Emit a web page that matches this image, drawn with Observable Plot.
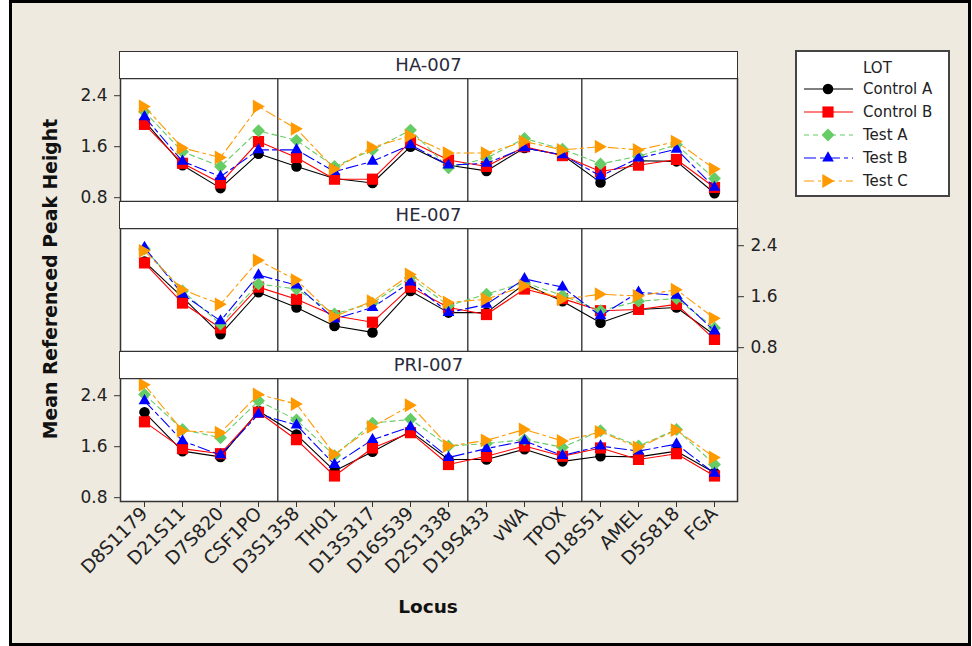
<!DOCTYPE html>
<html><head><meta charset="utf-8">
<script src="https://cdn.jsdelivr.net/npm/d3@7"></script>
<script src="https://cdn.jsdelivr.net/npm/@observablehq/plot@0.6"></script>
<style>
html,body{margin:0;padding:0;background:#fff;}
#page{position:relative;width:972px;height:646px;overflow:hidden;font-family:"DejaVu Sans",sans-serif;color:#222;}
#frame{position:absolute;left:9px;top:0;width:962px;height:646px;box-sizing:border-box;border:3px solid #000;background:#EEEAE0;}
.strip{position:absolute;box-sizing:border-box;background:#fff;border:1.5px solid #333;text-align:center;font-size:18px;color:#2a2a3a;}
.panel{position:absolute;left:0;}
#ytitle{position:absolute;left:50px;top:279px;transform:translate(-50%,-50%) rotate(-90deg);white-space:nowrap;font-weight:bold;font-size:18.8px;color:#111;}
#xtitle{position:absolute;left:428px;top:606px;transform:translate(-50%,-50%);white-space:nowrap;font-weight:bold;font-size:18.5px;color:#111;}
#legend{position:absolute;left:795px;top:50px;width:155px;height:147px;box-sizing:border-box;border:2px solid #444;background:#fff;}
</style>
</head><body>
<div id="page"><div id="frame"></div></div>
<script>
// ---------- data ----------
const loci = ["D8S1179","D21S11","D7S820","CSF1PO","D3S1358","TH01","D13S317","D16S539","D2S1338","D19S433","vWA","TPOX","D18S51","AMEL","D5S818","FGA"];
const lots = ["Control A","Control B","Test A","Test B","Test C"];
const panels = ["HA-007","HE-007","PRI-007"];
const dyeBreaksAfter = ["CSF1PO","D2S1338","TPOX"];
const yTicks = [0.8, 1.6, 2.4];

const HA_ControlA = [2.00,1.31,0.95,1.49,1.29,1.10,1.03,1.60,1.31,1.22,1.58,1.47,1.04,1.38,1.37,0.87];
const HA_ControlB = [1.95,1.34,1.03,1.68,1.43,1.09,1.09,1.68,1.39,1.29,1.60,1.46,1.21,1.31,1.40,0.96];
const HA_TestA    = [2.15,1.52,1.29,1.85,1.70,1.29,1.55,1.86,1.27,1.42,1.73,1.56,1.33,1.45,1.63,1.10];
const HA_TestB    = [2.07,1.37,1.13,1.55,1.55,1.21,1.37,1.63,1.31,1.34,1.58,1.47,1.14,1.42,1.56,0.96];
const HA_TestC    = [2.23,1.58,1.43,2.23,1.88,1.25,1.59,1.77,1.50,1.50,1.68,1.55,1.60,1.55,1.68,1.25];

const HE_ControlA = [2.15,1.59,1.01,1.67,1.43,1.14,1.04,1.69,1.35,1.35,1.80,1.53,1.19,1.40,1.43,1.00];
const HE_ControlB = [2.13,1.50,1.11,1.75,1.56,1.30,1.20,1.75,1.43,1.32,1.72,1.57,1.38,1.40,1.48,0.93];
const HE_TestA    = [2.35,1.69,1.17,1.80,1.72,1.33,1.50,1.90,1.46,1.64,1.82,1.62,1.38,1.53,1.57,1.11];
const HE_TestB    = [2.37,1.64,1.22,1.94,1.78,1.25,1.43,1.83,1.35,1.48,1.88,1.75,1.30,1.67,1.62,1.06];
const HE_TestC    = [2.32,1.71,1.48,2.17,1.86,1.29,1.53,1.95,1.51,1.56,1.77,1.56,1.64,1.61,1.71,1.26];

const PRI_ControlA = [2.14,1.53,1.44,2.16,1.79,1.22,1.52,1.84,1.40,1.40,1.56,1.37,1.45,1.44,1.53,1.19];
const PRI_ControlB = [1.99,1.57,1.49,2.14,1.71,1.14,1.58,1.82,1.32,1.45,1.61,1.45,1.58,1.40,1.49,1.14];
const PRI_TestA    = [2.42,1.87,1.74,2.32,2.02,1.46,1.97,2.03,1.61,1.65,1.71,1.59,1.85,1.61,1.87,1.32];
const PRI_TestB    = [2.32,1.69,1.47,2.11,1.94,1.32,1.71,1.91,1.43,1.57,1.69,1.46,1.61,1.53,1.64,1.18];
const PRI_TestC    = [2.57,1.85,1.82,2.42,2.27,1.48,1.91,2.25,1.61,1.70,1.87,1.69,1.83,1.59,1.86,1.43];

const values = {
  "HA-007": [HA_ControlA, HA_ControlB, HA_TestA, HA_TestB, HA_TestC],
  "HE-007": [HE_ControlA, HE_ControlB, HE_TestA, HE_TestB, HE_TestC],
  "PRI-007": [PRI_ControlA, PRI_ControlB, PRI_TestA, PRI_TestB, PRI_TestC]
};

// ---------- styles ----------
const triRight = {draw(ctx, size){ const r = Math.sqrt(size/Math.PI); ctx.moveTo(r*1.0,0); ctx.lineTo(-r*0.9,-r*1.1); ctx.lineTo(-r*0.9,r*1.1); ctx.closePath(); }};
const lotStyle = {
  "Control A": {color:"#000000", symbol:"circle", r:5.3, dash:null},
  "Control B": {color:"#FF0000", symbol:"square", r:6.3, dash:null},
  "Test A":    {color:"#66CC66", symbol:"diamond2", r:5.8, dash:"5,4"},
  "Test B":    {color:"#0000FF", symbol:"triangle2", r:5.6, dash:"12,4,4,4"},
  "Test C":    {color:"#FF9900", symbol:triRight, r:6.3, dash:"10,4,3,4"}
};

const L = 120, R = 737, W = 972;
const plotH = 123;
const plotTops = [78, 228, 378];
const stripH = 27;
const step = (R - L) / loci.length;
const fontFam = '"DejaVu Sans", sans-serif';

const page = document.getElementById("page");

function makePanel(name, idx){
  const rows = [];
  values[name].forEach((arr, j) => arr.forEach((v, i) => rows.push({locus: loci[i], lot: lots[j], value: v})));
  const last = idx === 2;
  const mt = 10, mb = last ? 130 : 10;
  const marks = [
    Plot.frame({fill: "white"}),
    Plot.ruleX(dyeBreaksAfter, {dx: step/2, stroke: "#444", strokeWidth: 1.5})
  ];
  for (const lot of lots){
    const s = lotStyle[lot];
    const d = rows.filter(r => r.lot === lot);
    marks.push(Plot.line(d, {x: "locus", y: "value", stroke: s.color, strokeWidth: 1.1, strokeDasharray: s.dash || undefined}));
    marks.push(Plot.dot(d, {x: "locus", y: "value", symbol: s.symbol, r: s.r, fill: s.color, stroke: "none"}));
  }
  marks.push(Plot.frame({stroke: "#333", strokeWidth: 1.5}));
  marks.push(Plot.axisY({ticks: yTicks, anchor: idx === 1 ? "right" : "left", tickSize: 6, tickPadding: 7, tickFormat: d3.format(".1f"), label: null, stroke: "#333"}));
  if (last) marks.push(Plot.axisX({anchor: "bottom", tickRotate: -45, tickSize: 6, tickPadding: 3, label: null, stroke: "#333", fontSize: 18.5}));
  const chart = Plot.plot({
    width: W, height: plotH + mt + mb,
    marginLeft: L, marginRight: W - R, marginTop: mt, marginBottom: mb,
    x: {type: "point", domain: loci, padding: 0.5, axis: null},
    y: {domain: [0.74, 2.67], axis: null},
    style: {background: "transparent", fontFamily: fontFam, fontSize: "17px", color: "#222", overflow: "visible"},
    marks
  });
  chart.classList.add("panel");
  chart.style.position = "absolute";
  chart.style.left = "0px";
  chart.style.top = (plotTops[idx] - mt) + "px";
  page.appendChild(chart);

  const strip = document.createElement("div");
  strip.className = "strip";
  strip.style.left = (L - 1) + "px";
  strip.style.width = (R - L + 2) + "px";
  strip.style.top = (plotTops[idx] - stripH) + "px";
  strip.style.height = (stripH + 1) + "px";
  strip.style.lineHeight = (stripH - 2) + "px";
  strip.textContent = name;
  page.appendChild(strip);
}
panels.forEach(makePanel);

const yt = document.createElement("div"); yt.id = "ytitle"; yt.textContent = "Mean Referenced Peak Height"; page.appendChild(yt);
const xt = document.createElement("div"); xt.id = "xtitle"; xt.textContent = "Locus"; page.appendChild(xt);

// ---------- legend ----------
const leg = document.createElement("div"); leg.id = "legend"; page.appendChild(leg);
const svg = d3.select(leg).append("svg").attr("width", 151).attr("height", 143).style("font-family", fontFam).style("font-size", "15px");
svg.append("text").attr("x", 66).attr("y", 16).attr("dy", "0.35em").attr("fill", "#222").text("LOT");
const symMap = {circle: d3.symbolCircle, square: d3.symbolSquare, diamond2: d3.symbolDiamond2, triangle2: d3.symbolTriangle2};
lots.forEach((lot, i) => {
  const s = lotStyle[lot];
  const y = 37 + i * 23;
  svg.append("line").attr("x1", 7).attr("x2", 56).attr("y1", y).attr("y2", y).attr("stroke", s.color).attr("stroke-width", 1.2).attr("stroke-dasharray", s.dash);
  const sym = typeof s.symbol === "string" ? symMap[s.symbol] : s.symbol;
  svg.append("path").attr("d", d3.symbol(sym, Math.PI * s.r * s.r)()).attr("transform", `translate(31,${y})`).attr("fill", s.color);
  svg.append("text").attr("x", 66).attr("y", y).attr("dy", "0.35em").attr("fill", "#222").text(lot);
});
</script>
</body></html>
